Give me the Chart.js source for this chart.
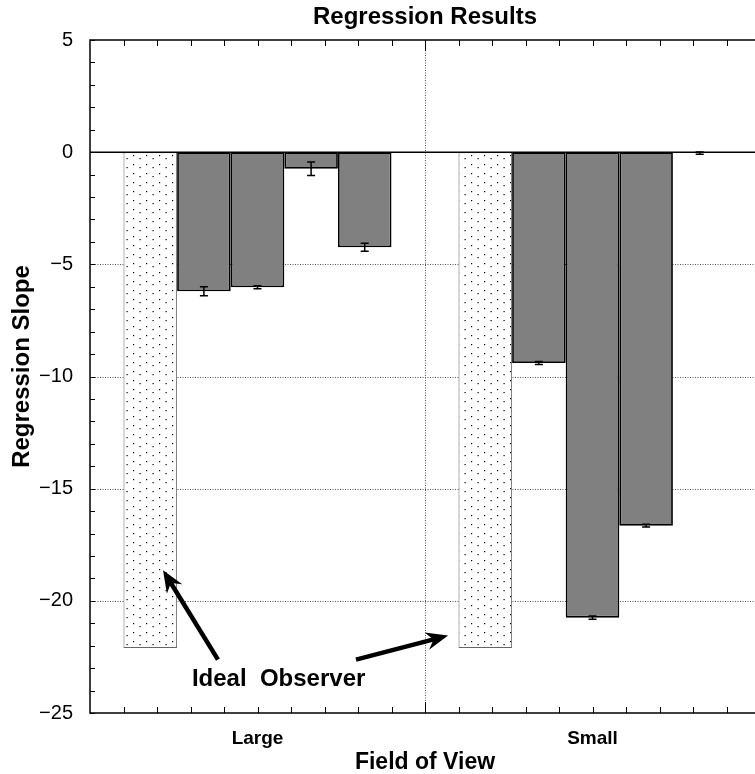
<title>Regression Results</title>
<meta charset="UTF-8">
<body style="margin:0; overflow:hidden; background:#fff">

<script src="https://cdn.jsdelivr.net/npm/chart.js@4/dist/chart.umd.min.js"></script>
<div style="width:770px; height:774px">
<canvas id="chart1"></canvas>
</div>

<script>
// field-of-view groups
var groups = ["Large", "Small"];
// regression slopes per condition, first one is the ideal observer
var idealObs = [-22.1, -22.1];
var cond1 = [-6.2, -9.4];
var cond2 = [-6.02, -20.75];
var cond3 = [-0.74, -16.65];
var cond4 = [-4.24, -0.04];
// standard errors, same order
var idealErr = [0, 0];
var err1 = [0.2, 0.07];
var err2 = [0.07, 0.07];
var err3 = [0.3, 0.06];
var err4 = [0.18, 0.05];
var yTicks = [5, 0, -5, -10, -15, -20, -25];

var FONT = "'Liberation Sans', Arial, Helvetica, sans-serif";

// dotted fill for the ideal observer bars
var tile = document.createElement("canvas");
tile.width = 13; tile.height = 9;
var tc = tile.getContext("2d");
tc.fillStyle = "#fff";
tc.fillRect(0, 0, 13, 9);
tc.fillStyle = "#000";
tc.fillRect(3, 2, 1.2, 1.2);
tc.fillRect(9.5, 5, 1.2, 1.2);
var dots = tc.createPattern(tile, "repeat");

var errs = [idealErr, err1, err2, err3, err4];

function arrow(ctx, x1, y1, x2, y2) {
	var a = Math.atan2(y2 - y1, x2 - x1);
	var len = 22, w = 9;
	var bx = x2 - Math.cos(a) * len, by = y2 - Math.sin(a) * len;
	ctx.beginPath();
	ctx.moveTo(x1, y1);
	ctx.lineTo(x2 - Math.cos(a) * 12, y2 - Math.sin(a) * 12);
	ctx.lineWidth = 4.5;
	ctx.strokeStyle = "#000";
	ctx.stroke();
	ctx.beginPath();
	ctx.moveTo(x2, y2);
	ctx.lineTo(bx + Math.sin(a) * w, by - Math.cos(a) * w);
	ctx.lineTo(x2 - Math.cos(a) * 15, y2 - Math.sin(a) * 15);
	ctx.lineTo(bx - Math.sin(a) * w, by + Math.cos(a) * w);
	ctx.closePath();
	ctx.fillStyle = "#000";
	ctx.fill();
}

var frame = {
	id: "frame",
	beforeDatasetsDraw: function(chart) {
		var ctx = chart.ctx, a = chart.chartArea;
		var y = chart.scales.y, xt = chart.scales.xt;
		ctx.save();
		ctx.strokeStyle = "#555";
		ctx.lineWidth = 1;
		ctx.setLineDash([1, 1.5]);
		[-5, -10, -15, -20].forEach(function(v) {
			var py = Math.round(y.getPixelForValue(v)) + 0.5;
			ctx.beginPath(); ctx.moveTo(a.left, py); ctx.lineTo(a.right, py); ctx.stroke();
		});
		var px = Math.round(xt.getPixelForValue(10)) + 0.5;
		ctx.beginPath(); ctx.moveTo(px, a.top); ctx.lineTo(px, a.bottom); ctx.stroke();
		ctx.restore();
	},
	afterDatasetsDraw: function(chart) {
		var ctx = chart.ctx, a = chart.chartArea;
		var y = chart.scales.y, xt = chart.scales.xt;
		ctx.save();
		ctx.strokeStyle = "#000";
		// error bars
		ctx.lineWidth = 1.5;
		chart.data.datasets.forEach(function(ds, i) {
			var meta = chart.getDatasetMeta(i);
			meta.data.forEach(function(bar, j) {
				var e = errs[i][j];
				if (!e) return;
				var y1 = y.getPixelForValue(ds.data[j] - e), y2 = y.getPixelForValue(ds.data[j] + e);
				ctx.beginPath();
				ctx.moveTo(bar.x, y1); ctx.lineTo(bar.x, y2);
				ctx.moveTo(bar.x - 4, y1); ctx.lineTo(bar.x + 4, y1);
				ctx.moveTo(bar.x - 4, y2); ctx.lineTo(bar.x + 4, y2);
				ctx.stroke();
			});
		});
		// zero line and frame
		ctx.lineWidth = 1.5;
		var z = y.getPixelForValue(0);
		ctx.beginPath(); ctx.moveTo(a.left, z); ctx.lineTo(a.right, z); ctx.stroke();
		ctx.strokeRect(a.left, a.top, a.right - a.left, a.bottom - a.top);
		// inside tick marks
		ctx.lineWidth = 1;
		for (var v = -25; v <= 5; v++) {
			var py = Math.round(y.getPixelForValue(v)) + 0.5;
			ctx.beginPath(); ctx.moveTo(a.left, py); ctx.lineTo(a.left + 5, py); ctx.stroke();
		}
		for (var u = 1; u < 20; u++) {
			var px = Math.round(xt.getPixelForValue(u)) + 0.5;
			var len = u == 10 ? 11 : 6;
			ctx.beginPath();
			ctx.moveTo(px, a.top); ctx.lineTo(px, a.top + len);
			ctx.moveTo(px, a.bottom); ctx.lineTo(px, a.bottom - len);
			ctx.stroke();
		}
		// annotation
		arrow(ctx, xt.getPixelForValue(3.82), y.getPixelForValue(-22.62), xt.getPixelForValue(2.18), y.getPixelForValue(-18.64));
		arrow(ctx, xt.getPixelForValue(7.94), y.getPixelForValue(-22.62), xt.getPixelForValue(10.69), y.getPixelForValue(-21.55));
		ctx.fillStyle = "#000";
		ctx.textAlign = "center";
		ctx.textBaseline = "middle";
		ctx.font = "bold 24px " + FONT;
		ctx.fillText("Ideal  Observer", xt.getPixelForValue(5.63), y.getPixelForValue(-23.5));
		// chart title and y axis title
		ctx.font = "bold 24px " + FONT;
		ctx.fillText("Regression Results", (a.left + a.right) / 2, 17);
		ctx.translate(22, (a.top + a.bottom) / 2 - 10);
		ctx.rotate(-Math.PI / 2);
		ctx.fillText("Regression Slope", 0, 0);
		ctx.restore();
	}
};

function grayBars(label, data) {
	return {
		label: label, data: data, xAxisID: "x",
		backgroundColor: "#808080", borderColor: "#000", borderWidth: 1.8, borderSkipped: false
	};
}

new Chart("chart1", {
	type: "bar",
	data: {
		labels: groups,
		datasets: [
			{ label: "Ideal Observer", data: idealObs, xAxisID: "x",
				backgroundColor: dots, borderColor: "#666", borderWidth: 1, borderSkipped: false },
			grayBars("1", cond1),
			grayBars("2", cond2),
			grayBars("3", cond3),
			grayBars("4", cond4)
		]
	},
	options: {
		responsive: true,
		maintainAspectRatio: false,
		animation: false,
		categoryPercentage: 0.8,
		barPercentage: 1.0,
		layout: { padding: { left: 0, right: 10, top: 40, bottom: 0 } },
		plugins: {
			legend: { display: false },
			tooltip: { enabled: false },
			title: { display: false }
		},
		scales: {
			x: {
				type: "category",
				grid: { display: false, drawTicks: false },
				border: { display: false },
				ticks: { color: "#000", padding: 14, font: { family: FONT, size: 19, weight: "bold" } },
				title: { display: true, text: "Field of View", color: "#000", padding: { top: 2, bottom: 0 },
					font: { family: FONT, size: 23, weight: "bold", lineHeight: 1 } },
				afterFit: function(s) { s.height = 61; }
			},
			xt: {
				type: "linear",
				display: false,
				offset: false,
				min: 0,
				max: 20
			},
			y: {
				min: -25,
				max: 5,
				afterBuildTicks: function(s) { s.ticks = yTicks.map(function(v) { return { value: v }; }); },
				grid: { display: false, drawTicks: false },
				border: { display: false },
				ticks: {
					color: "#000", padding: 17, font: { family: FONT, size: 20 },
					callback: function(v) { return String(v).replace("-", "\u2212"); }
				},
				afterFit: function(s) { s.width = 90; }
			}
		}
	},
	plugins: [frame]
});
</script>
